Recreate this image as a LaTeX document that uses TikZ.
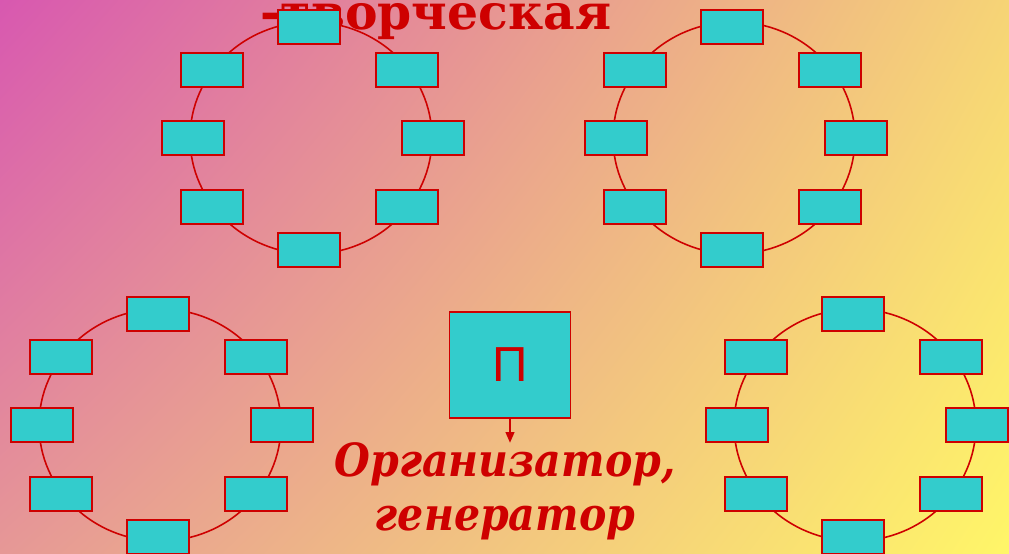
\documentclass[tikz,border=0pt]{standalone}
\usepackage{fontspec}
\setmainfont{DejaVu Serif}
\newfontfamily\letterfont{Liberation Sans}
\newfontfamily\captionfont[FakeStretch=0.9]{DejaVu Serif}
\usetikzlibrary{arrows.meta,shadings}

\definecolor{bgtl}{RGB}{216,88,176}
\definecolor{bgtr}{RGB}{246,212,118}
\definecolor{bgbl}{RGB}{230,152,150}
\definecolor{bgbr}{RGB}{255,246,104}
\definecolor{linered}{RGB}{206,0,0}
\definecolor{cellcyan}{RGB}{51,204,204}

\tikzset{
  ring/.style={draw=linered, line width=0.9pt},
  cell/.style={draw=linered, fill=cellcyan, line width=1.1pt,
    minimum width=1.24cm, minimum height=0.68cm, inner sep=0pt},
  bigcell/.style={cell, minimum width=2.42cm, minimum height=2.12cm,
    font=\letterfont\fontsize{28pt}{30pt}\selectfont, text=linered},
  title/.style={text=linered, inner sep=0pt, anchor=base,
    font=\bfseries\fontsize{27.8pt}{32pt}\selectfont},
  caption/.style={text=linered, inner sep=0pt, anchor=base,
    font=\captionfont\bfseries\itshape\fontsize{26pt}{30pt}\selectfont},
}

\begin{document}
\begin{tikzpicture}[x=0.02cm, y=-0.02cm]
  \shade[upper left=bgtl, upper right=bgtr, lower left=bgbl, lower right=bgbr]
    (0,0) rectangle (1009,554);
  \useasboundingbox (0,0) rectangle (1009,554);
  \clip (0,0) rectangle (1009,554);

  \node[title] (head) at (436,30) {-творческая};

  % upper left ring
  \begin{scope}[shift={(309,138)}]
    \draw[ring] (2,0) ellipse [x radius=2.42cm, y radius=2.32cm];
    \node[cell] (a-t) at (0,-111) {};
    \node[cell] (a-tr) at (98,-68) {};
    \node[cell] (a-r) at (124,0) {};
    \node[cell] (a-br) at (98,69) {};
    \node[cell] (a-b) at (0,112) {};
    \node[cell] (a-bl) at (-97,69) {};
    \node[cell] (a-l) at (-116,0) {};
    \node[cell] (a-tl) at (-97,-68) {};
  \end{scope}

  % upper right ring
  \begin{scope}[shift={(732,138)}]
    \draw[ring] (2,0) ellipse [x radius=2.42cm, y radius=2.32cm];
    \node[cell] (b-t) at (0,-111) {};
    \node[cell] (b-tr) at (98,-68) {};
    \node[cell] (b-r) at (124,0) {};
    \node[cell] (b-br) at (98,69) {};
    \node[cell] (b-b) at (0,112) {};
    \node[cell] (b-bl) at (-97,69) {};
    \node[cell] (b-l) at (-116,0) {};
    \node[cell] (b-tl) at (-97,-68) {};
  \end{scope}

  % lower left ring
  \begin{scope}[shift={(158,425)}]
    \draw[ring] (2,0) ellipse [x radius=2.42cm, y radius=2.32cm];
    \node[cell] (c-t) at (0,-111) {};
    \node[cell] (c-tr) at (98,-68) {};
    \node[cell] (c-r) at (124,0) {};
    \node[cell] (c-br) at (98,69) {};
    \node[cell] (c-b) at (0,112) {};
    \node[cell] (c-bl) at (-97,69) {};
    \node[cell] (c-l) at (-116,0) {};
    \node[cell] (c-tl) at (-97,-68) {};
  \end{scope}

  % lower right ring
  \begin{scope}[shift={(853,425)}]
    \draw[ring] (2,0) ellipse [x radius=2.42cm, y radius=2.32cm];
    \node[cell] (d-t) at (0,-111) {};
    \node[cell] (d-tr) at (98,-68) {};
    \node[cell] (d-r) at (124,0) {};
    \node[cell] (d-br) at (98,69) {};
    \node[cell] (d-b) at (0,112) {};
    \node[cell] (d-bl) at (-97,69) {};
    \node[cell] (d-l) at (-116,0) {};
    \node[cell] (d-tl) at (-97,-68) {};
  \end{scope}

  % centre
  \node[bigcell] (p) at (510,365) {П};
  \node[caption] (org) at (505,477) {Организатор,};
  \node[caption] (gen) at (505,530) {генератор};
  \draw[linered, line width=0.8pt, -{Triangle[length=6pt, width=5pt]}]
    (p.south) -- (p.south |- org.north);
\end{tikzpicture}
\end{document}
